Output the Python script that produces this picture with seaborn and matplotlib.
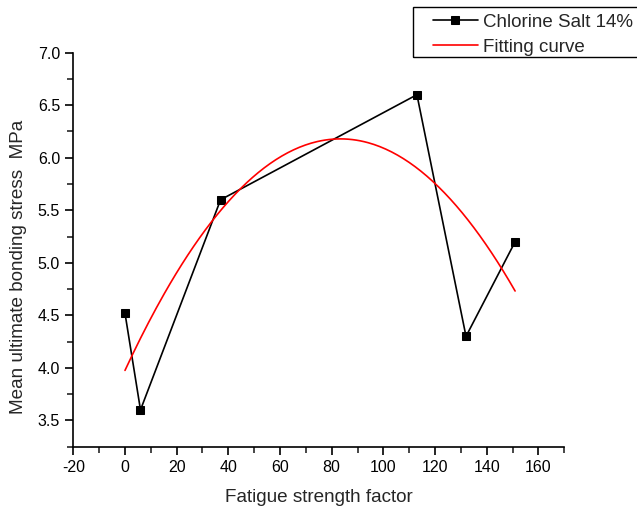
import matplotlib
matplotlib.use("Agg")
import matplotlib.pyplot as plt
from matplotlib.patches import Rectangle
from matplotlib.ticker import MultipleLocator, FormatStrFormatter
import seaborn as sns
import numpy as np
import pandas as pd

# Estilo
sns.set_style("ticks")
plt.rcParams['font.family'] = ['Liberation Sans', 'DejaVu Sans']
plt.rcParams['font.size'] = 11
plt.rcParams['axes.unicode_minus'] = False

# Dados
fatigue = [0, 6, 37, 113, 132, 151]
stress = [4.52, 3.60, 5.60, 6.60, 4.30, 5.20]

data = pd.DataFrame({'Fatigue': fatigue, 'Stress': stress})

# Curva de ajuste (polinomio de 2a ordem sobre os pontos)
coef = np.polyfit(fatigue, stress, 2)
x_fit = np.linspace(min(fatigue), max(fatigue), 200)
fit = pd.DataFrame({'Fatigue': x_fit, 'Stress': np.polyval(coef, x_fit)})

fig = plt.figure(figsize=(6.37, 5.08), dpi=100)
ax = fig.add_axes([0.1151, 0.1207, 0.7706, 0.7756])

sns.lineplot(x='Fatigue', y='Stress', data=data, ax=ax, color='black',
             marker='s', markersize=6, markeredgecolor='black', linewidth=1.2,
             label='Chlorine Salt 14%')
sns.lineplot(x='Fatigue', y='Stress', data=fit, ax=ax, color='red',
             linewidth=1.2, label='Fitting curve')

ax.set_xlim(-20, 170)
ax.set_ylim(3.25, 7.0)
ax.xaxis.set_major_locator(MultipleLocator(20))
ax.xaxis.set_minor_locator(MultipleLocator(10))
ax.yaxis.set_major_locator(MultipleLocator(0.5))
ax.yaxis.set_minor_locator(MultipleLocator(0.25))
ax.yaxis.set_major_formatter(FormatStrFormatter('%.1f'))

ax.tick_params(which='major', direction='out', length=6, width=1.2, labelsize=11.5, colors='black')
ax.tick_params(which='minor', direction='out', length=4, width=1.2)
for side in ['top', 'right']:
    ax.spines[side].set_visible(False)
for side in ['left', 'bottom']:
    ax.spines[side].set_linewidth(1.2)
    ax.spines[side].set_color('black')

ax.set_xlabel('Fatigue strength factor', fontsize=13.6, labelpad=10)
ax.set_ylabel('Mean ultimate bonding stress  MPa', fontsize=13.6)
ax.yaxis.set_label_coords(-0.094, 0.456)

# Legenda (caixa desenhada à parte, cortada na borda direita como no original)
leg = fig.legend(loc='upper left', bbox_to_anchor=(427 / 637, 1 - 8 / 508),
                 borderaxespad=0, fontsize=13.5, frameon=False,
                 handlelength=2.4, borderpad=0.3,
                 labelspacing=0.42, handletextpad=0.3)
ax.get_legend().remove()
fig.patches.append(Rectangle((413 / 637, 1 - 57 / 508), 0.5, 50 / 508,
                             transform=fig.transFigure, fill=False,
                             edgecolor='black', linewidth=1.0))

fig.savefig('out.png', dpi=100)
